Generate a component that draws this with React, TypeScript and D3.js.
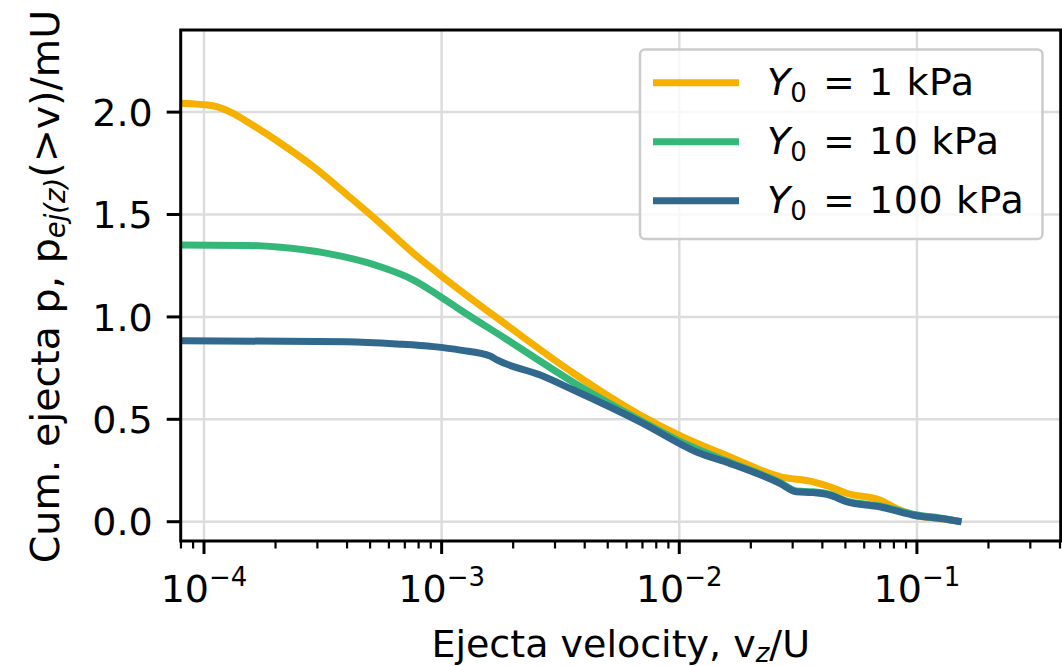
import * as d3 from "d3";

const W = 1062;
const H = 666;
const left = 180.7;
const right = 1060.7;
const top = 30;
const bottom = 541;
const font = "DejaVu Sans";
const fs = 38;
const fsSmall = 26;

// cumulative ejecta curves: [velocity, p]
const y1kPa: [number, number][] = [
  [8.0e-5, 2.043], [1.1e-4, 2.03], [1.32e-4, 1.995], [1.52e-4, 1.953], [2.1e-4, 1.848],
  [2.89e-4, 1.733], [4.01e-4, 1.595], [5.52e-4, 1.457], [7.62e-4, 1.31],
  [9.86e-4, 1.205], [1.88e-3, 0.96], [3.59e-3, 0.725], [6.84e-3, 0.521],
  [1.007e-2, 0.42], [1.63e-2, 0.317], [2.65e-2, 0.22], [3.66e-2, 0.195],
  [4.3e-2, 0.171], [5.05e-2, 0.139], [6.97e-2, 0.106], [8.18e-2, 0.065],
  [9.96e-2, 0.03], [0.1244, 0.015], [0.154, 0.0],
];
const y10kPa: [number, number][] = [
  [8.0e-5, 1.351], [1.52e-4, 1.349], [2.1e-4, 1.34], [3.3e-4, 1.31],
  [5.52e-4, 1.245], [7.62e-4, 1.18], [9.86e-4, 1.1], [1.2e-3, 1.034],
  [1.88e-3, 0.89], [3.59e-3, 0.68], [6.84e-3, 0.495], [1.007e-2, 0.392],
  [1.63e-2, 0.29], [2.65e-2, 0.192], [3.11e-2, 0.15], [3.66e-2, 0.146],
  [4.3e-2, 0.134], [5.05e-2, 0.101], [6.97e-2, 0.077], [9.59e-2, 0.037],
  [0.1327, 0.014], [0.154, 0.0],
];
const y100kPa: [number, number][] = [
  [8.0e-5, 0.884], [4.01e-4, 0.879], [6.5e-4, 0.868], [9.25e-4, 0.855],
  [1.2e-3, 0.838], [1.6e-3, 0.809], [1.71e-3, 0.79], [2.6e-3, 0.716],
  [3.59e-3, 0.643], [6.84e-3, 0.488], [1.22e-2, 0.334], [1.63e-2, 0.285],
  [2.65e-2, 0.1875], [3.11e-2, 0.146], [3.66e-2, 0.142], [4.3e-2, 0.13],
  [5.05e-2, 0.098], [6.97e-2, 0.073], [9.59e-2, 0.033], [0.1327, 0.012],
  [0.154, 0.0],
];

const series = [
  { label: "1", data: y1kPa, color: "#F5B000" },
  { label: "10", data: y10kPa, color: "#35B779" },
  { label: "100", data: y100kPa, color: "#31688E" },
];

const xMajor = [1e-4, 1e-3, 1e-2, 1e-1];
const xExp = ["−4", "−3", "−2", "−1"];
const yTicks = [0, 0.5, 1.0, 1.5, 2.0];

const x = d3.scaleLog().domain([10 ** -4.098, 10 ** -0.395]).range([left, right]);
const y = d3.scaleLinear().domain([-0.0942, 2.401]).range([bottom, top]);

const xMinor: number[] = [];
for (let e = -5; e <= 0; e++) {
  for (let m = 2; m <= 9; m++) {
    const v = m * 10 ** e;
    if (v >= x.domain()[0] && v <= x.domain()[1]) xMinor.push(v);
  }
}

const line = d3
  .line<[number, number]>()
  .x((d) => x(d[0]))
  .y((d) => y(d[1]))
  .curve(d3.curveMonotoneX);

export default function App() {
  return (
    <svg
      width={W}
      height={H}
      style={{ position: "absolute", left: 0, top: 0, background: "white" }}
      fontFamily={font}
    >
      {/* grid */}
      {xMajor.map((v) => (
        <line key={"gx" + v} x1={x(v)} x2={x(v)} y1={top} y2={bottom} stroke="#dcdcdc" strokeWidth={2.5} />
      ))}
      {yTicks.map((v) => (
        <line key={"gy" + v} x1={left} x2={right} y1={y(v)} y2={y(v)} stroke="#dcdcdc" strokeWidth={2.5} />
      ))}

      {/* curves */}
      <g fill="none" strokeWidth={7} strokeLinejoin="round">
        {series.map((s) => (
          <path key={s.label} d={line(s.data) ?? ""} stroke={s.color} />
        ))}
      </g>

      {/* spines */}
      <rect x={left} y={top} width={right - left} height={bottom - top} fill="none" stroke="black" strokeWidth={3} />

      {/* x ticks */}
      {xMinor.map((v) => (
        <line key={"mx" + v} x1={x(v)} x2={x(v)} y1={bottom} y2={bottom + 7.5} stroke="black" strokeWidth={2.2} />
      ))}
      {xMajor.map((v, i) => (
        <g key={"tx" + v}>
          <line x1={x(v)} x2={x(v)} y1={bottom} y2={bottom + 13} stroke="black" strokeWidth={3} />
          <text x={x(v)} y={601.5} textAnchor="middle" fontSize={fs}>
            10
            <tspan dy={-16} fontSize={fsSmall}>{xExp[i]}</tspan>
          </text>
        </g>
      ))}

      {/* y ticks */}
      {yTicks.map((v) => (
        <g key={"ty" + v}>
          <line x1={left - 14} x2={left} y1={y(v)} y2={y(v)} stroke="black" strokeWidth={3} />
          <text x={left - 28} y={y(v)} dy="0.36em" textAnchor="end" fontSize={fs}>
            {v.toFixed(1)}
          </text>
        </g>
      ))}

      {/* axis labels */}
      <text x={(left + right) / 2} y={656.5} textAnchor="middle" fontSize={fs}>
        Ejecta velocity, v<tspan dy={5} fontSize={fsSmall} fontStyle="italic">z</tspan>
        <tspan dy={-5}>/U</tspan>
      </text>
      <text transform={`translate(59,286.5) rotate(-90)`} textAnchor="middle" fontSize={39.5}>
        Cum. ejecta p, p<tspan dy={6} fontSize={27.5} fontStyle="italic">ej(z)</tspan>
        <tspan dy={-6}>(&gt;v)/mU</tspan>
      </text>

      {/* legend */}
      <rect x={640} y={49.5} width={402.5} height={189.5} rx={5} fill="white" fillOpacity={0.8} stroke="#cccccc" strokeWidth={2.5} />
      {series.map((s, i) => {
        const ly = 82.7 + i * 59;
        return (
          <g key={"lg" + s.label} fontSize={fs}>
            <line x1={653} x2={739} y1={ly} y2={ly} stroke={s.color} strokeWidth={7} />
            <text x={767} y={ly + 12.5}>
              <tspan fontStyle="italic">Y</tspan>
              <tspan dy={7} fontSize={fsSmall}>0</tspan>
            </text>
            <text x={823} y={ly + 12.5}>=</text>
            <text x={869} y={ly + 12.5} letterSpacing={0.6}>{`${s.label} kPa`}</text>
          </g>
        );
      })}
    </svg>
  );
}
